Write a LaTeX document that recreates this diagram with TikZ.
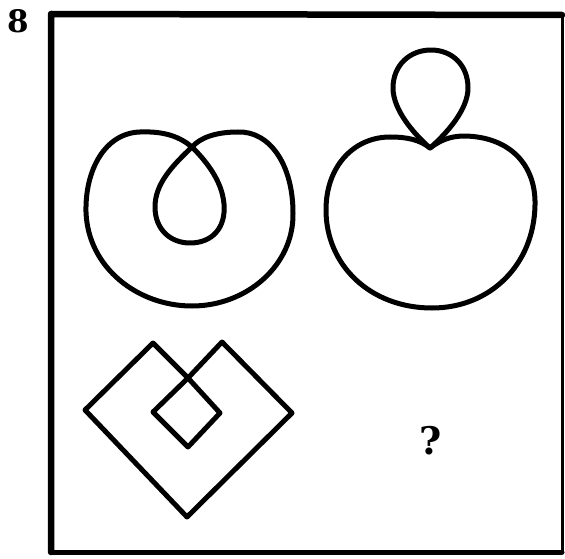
\documentclass[tikz,border=0pt]{standalone}
\usepackage{fontspec}
\newfontfamily\labfont{DejaVu Serif}
\begin{document}
\begin{tikzpicture}[x=1pt,y=-1pt,
  fig/.style={line width=5pt, line join=round, line cap=round},
  lab/.style={inner sep=0pt, font=\labfont\bfseries\fontsize{31}{31}\selectfont}]
\useasboundingbox (0,0) rectangle (565,559);
% frame
\draw[line width=6.5pt, line cap=round, line join=round] (51,552) -- (51,14) -- (562,15);
\draw[line width=5pt, line cap=round] (51,552) -- (562,552);
\draw[line width=3pt] (562,15) -- (562,552);
% label
\node[lab] (num) at (18,21) {8};
% top-left figure: heart with inner loop
\draw[fig] (192,147) .. controls (180,137) and (165,131) .. (140,132)
  .. controls (105,133) and (85,170) .. (86,212)
  .. controls (88,268) and (138,306) .. (192,306)
  .. controls (247,306) and (294,265) .. (293,213)
  .. controls (293,165) and (270,131) .. (238,132)
  .. controls (215,132) and (200,138) .. (192,147)
  .. controls (172,166) and (155,184) .. (155,207)
  .. controls (155,229) and (170,243) .. (190,243)
  .. controls (212,243) and (226,228) .. (224,204)
  .. controls (222,180) and (205,160) .. (192,147) -- cycle;
% top-right figure: heart with loop on top
\draw[fig] (430,148) .. controls (442,139) and (452,136) .. (465,136)
  .. controls (510,137) and (536,165) .. (535,205)
  .. controls (534,265) and (490,308) .. (432,308)
  .. controls (370,308) and (326,265) .. (326,210)
  .. controls (326,165) and (355,137) .. (390,137)
  .. controls (408,137) and (420,140) .. (430,148) -- cycle;
\draw[fig] (430,148) .. controls (414,134) and (393,110) .. (393,88)
  .. controls (393,65) and (410,50) .. (431,50)
  .. controls (452,50) and (468,65) .. (468,88)
  .. controls (468,110) and (446,134) .. (430,148) -- cycle;
% bottom-left figure: angular version
\draw[fig] (153,343) -- (188,378) -- (220,413) -- (188,447) -- (153,412)
  -- (188,378) -- (222,342) -- (292,413) -- (187,517) -- (85,410) -- cycle;
% question mark
\node[lab, font=\labfont\bfseries\fontsize{38}{38}\selectfont] (q) at (431,441) {?};
\end{tikzpicture}
\end{document}
